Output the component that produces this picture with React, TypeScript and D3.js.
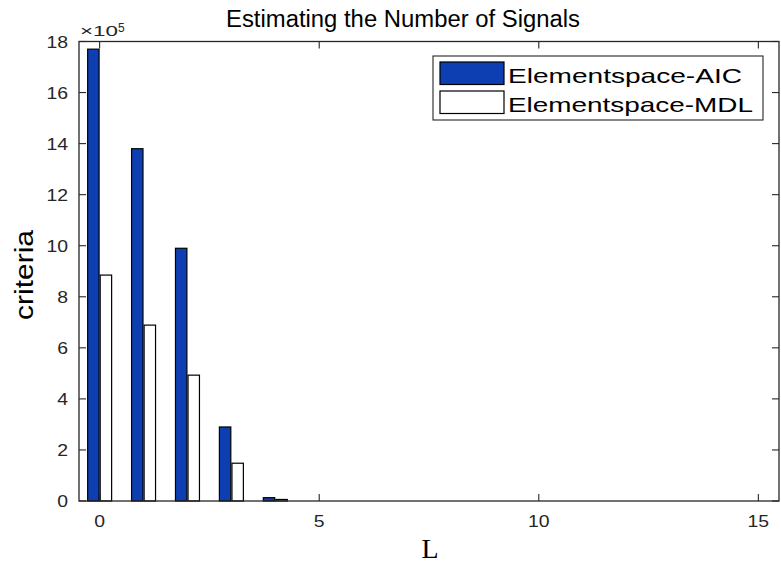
import React from "react";
import * as d3 from "d3";

// Criterion values (units of 1e5) for each candidate number of signals L
const positions = [0, 1, 2, 3, 4, 5, 6, 7, 8, 9, 10, 11, 12, 13, 14, 15];
const aicValues = [17.7, 13.8, 9.9, 2.9, 0.13, 0, 0, 0, 0, 0, 0, 0, 0, 0, 0, 0];
const mdlValues = [8.85, 6.89, 4.93, 1.48, 0.06, 0, 0, 0, 0, 0, 0, 0, 0, 0, 0, 0];
const seriesNames = ["Elementspace-AIC", "Elementspace-MDL"];
const xTicks = [0, 5, 10, 15];
const yTicks = [0, 2, 4, 6, 8, 10, 12, 14, 16, 18];

const W = 781;
const H = 564;
const left = 79;
const right = 779;
const top = 41.5;
const bottom = 501;

const axisColor = "#262626";
const aicColor = "#0E3FB2";
const font = "'Liberation Sans', Arial, sans-serif";
const serif = "'Liberation Serif', 'Times New Roman', serif";

export default function App() {
  const x = d3.scaleLinear().domain([-0.47, 15.47]).range([left, right]);
  const y = d3.scaleLinear().domain([0, 18]).range([bottom, top]);
  const unit = x(1) - x(0);
  const offset = 0.143 * unit;
  const bw = 0.26 * unit;
  const tickLen = 7;

  const series = [
    { name: seriesNames[0], values: aicValues, fill: aicColor, dx: -offset, textLen: 234 },
    { name: seriesNames[1], values: mdlValues, fill: "#ffffff", dx: offset, textLen: 245 },
  ];

  return (
    <svg width={W} height={H} style={{ position: "absolute", left: 0, top: 0 }}>
      <rect width={W} height={H} fill="#ffffff" />
      <text
        x={403}
        y={27}
        textAnchor="middle"
        fontFamily={font}
        fontSize={23}
        fill="#000"
        textLength={354}
        lengthAdjust="spacingAndGlyphs"
      >
        Estimating the Number of Signals
      </text>

      {/* bars */}
      {series.map((s) =>
        s.values.map((v, i) =>
          v > 0 ? (
            <rect
              key={s.name + i}
              x={x(positions[i]) + s.dx - bw / 2}
              y={y(v)}
              width={bw}
              height={y(0) - y(v)}
              fill={s.fill}
              stroke="#000"
              strokeWidth={1.2}
            />
          ) : null
        )
      )}

      {/* axes box */}
      <rect x={left} y={top} width={right - left} height={bottom - top} fill="none" stroke={axisColor} strokeWidth={1.3} />

      {xTicks.map((t) => (
        <g key={"x" + t}>
          <line x1={x(t)} x2={x(t)} y1={bottom} y2={bottom - tickLen} stroke={axisColor} strokeWidth={1.1} />
          <line x1={x(t)} x2={x(t)} y1={top} y2={top + tickLen} stroke={axisColor} strokeWidth={1.1} />
          <text
            x={x(t)}
            y={527}
            textAnchor="middle"
            fontFamily={font}
            fontSize={16.5}
            fill={axisColor}
            textLength={String(t).length * 10.8}
            lengthAdjust="spacingAndGlyphs"
          >
            {t}
          </text>
        </g>
      ))}

      {yTicks.map((t) => (
        <g key={"y" + t}>
          <line x1={left} x2={left + tickLen} y1={y(t)} y2={y(t)} stroke={axisColor} strokeWidth={1.1} />
          <line x1={right} x2={right - tickLen} y1={y(t)} y2={y(t)} stroke={axisColor} strokeWidth={1.1} />
          <text
            x={68}
            y={y(t) + 6}
            textAnchor="end"
            fontFamily={font}
            fontSize={16.5}
            fill={axisColor}
            textLength={String(t).length * 10.8}
            lengthAdjust="spacingAndGlyphs"
          >
            {t}
          </text>
        </g>
      ))}

      {/* exponent */}
      <text x={80} y={36} fontFamily={font} fontSize={14} fill={axisColor}>
        <tspan textLength={38} lengthAdjust="spacingAndGlyphs">×10</tspan>
        <tspan dy={-4} fontSize={12}>5</tspan>
      </text>

      {/* axis labels */}
      <text
        transform={`translate(33, 275) rotate(-90)`}
        textAnchor="middle"
        fontFamily={font}
        fontSize={25}
        fill="#000"
        textLength={90}
        lengthAdjust="spacingAndGlyphs"
      >
        criteria
      </text>
      <text x={430} y={558} textAnchor="middle" fontFamily={serif} fontSize={28} fill="#000">
        L
      </text>

      {/* legend */}
      <rect x={433} y={56} width={330} height={64} fill="#ffffff" stroke={axisColor} strokeWidth={1.1} />
      {series.map((s, i) => (
        <g key={"leg" + i}>
          <rect x={440} y={62 + i * 29} width={64} height={22.5} fill={s.fill} stroke="#000" strokeWidth={1.2} />
          <text
            x={508}
            y={83 + i * 29}
            fontFamily={font}
            fontSize={21}
            fill="#000"
            textLength={s.textLen}
            lengthAdjust="spacingAndGlyphs"
          >
            {s.name}
          </text>
        </g>
      ))}
    </svg>
  );
}
